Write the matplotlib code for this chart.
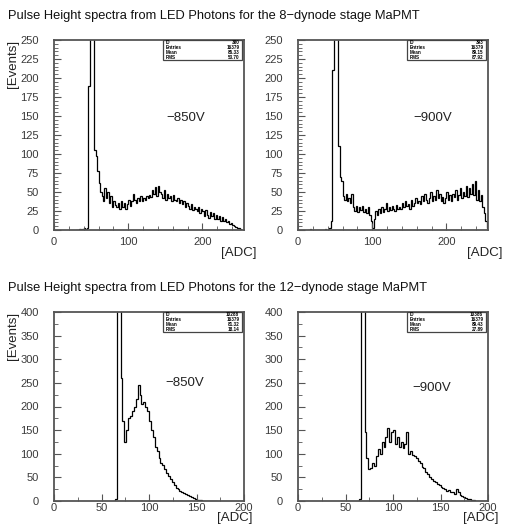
import numpy as np
import matplotlib
matplotlib.use("Agg")
import matplotlib.pyplot as plt
from matplotlib.ticker import MultipleLocator

plt.rcParams['font.family'] = ['Liberation Sans', 'DejaVu Sans']

# ---------------- data (bin width 2 ADC) ----------------
bin_width = 2

# 8-dynode, -850V  (bins starting at ADC 30)
start_8_850 = 30
counts_8_850 = [0, 0, 1, 0, 1, 2, 1, 3, 190, 600, 900, 400,
                105, 98, 78, 62, 50, 45, 38, 55, 42, 50, 35, 45, 30, 38, 33, 30, 35, 28,
                38, 30, 36, 28, 34, 40, 32, 38, 48, 40, 35, 42, 38, 45, 38, 42, 40, 45,
                42, 46, 44, 52, 48, 56, 45, 58, 50, 48, 42, 52, 40, 48, 42, 45, 38, 46,
                40, 38, 42, 35, 40, 34, 38, 30, 36, 32, 28, 34, 26, 30, 28, 25, 30, 22,
                27, 25, 18, 26, 20, 16, 24, 18, 22, 15, 20, 14, 18, 12, 17, 12, 14, 10,
                12, 8, 9, 6, 5, 4, 3, 2, 1, 0, 0]

# 8-dynode, -900V  (bins starting at ADC 14)
start_8_900 = 14
counts_8_900 = [0, 1, 0, 0, 0, 0, 0, 0, 0, 0, 0, 1, 0, 1, 2, 12, 210, 600, 800, 400,
                110, 70, 65, 45, 40, 48, 38, 42, 35, 47, 30, 25, 32, 24, 30, 26, 31, 24,
                28, 22, 30, 20, 12, 3, 15, 25, 20, 28, 22, 30, 24, 28, 35, 25, 30, 26,
                32, 28, 25, 33, 27, 30, 28, 35, 30, 38, 32, 34, 28, 40, 32, 36, 42, 35,
                38, 34, 45, 38, 47, 40, 35, 42, 50, 38, 45, 40, 52, 42, 48, 38, 44, 36,
                42, 50, 40, 46, 38, 48, 44, 52, 40, 46, 55, 42, 50, 45, 58, 44, 55, 48,
                60, 46, 64, 40, 52, 38, 46, 30, 22, 12, 3]

# 12-dynode, -850V  (bins starting at ADC 62)
start_12_850 = 62
counts_12_850 = [0, 5, 800, 900, 260, 170, 125, 150, 175, 180, 190, 200, 215, 245,
                 225, 205, 210, 200, 190, 170, 150, 135, 115, 105, 92, 80, 76, 68, 60,
                 52, 46, 40, 33, 28, 25, 22, 20, 17, 14, 12, 10, 8, 6, 5, 3, 2, 2, 1,
                 1, 1, 1, 1, 0, 1, 0]

# 12-dynode, -900V  (bins starting at ADC 62)
start_12_900 = 62
counts_12_900 = [0, 5, 700, 900, 145, 90, 68, 70, 80, 75, 95, 110, 100, 125, 115,
                 135, 155, 125, 145, 150, 120, 135, 115, 125, 112, 120, 145, 100, 105,
                 98, 95, 90, 85, 80, 72, 70, 62, 58, 50, 47, 42, 40, 37, 33, 30, 28,
                 25, 22, 24, 18, 20, 15, 25, 18, 12, 10, 8, 6, 5, 4, 3, 2, 1, 0]

stats_8_850 = [("ID", "380"), ("Entries", "16379"), ("Mean", "86.33"), ("RMS", "53.70")]
stats_8_900 = [("ID", "393"), ("Entries", "16379"), ("Mean", "89.15"), ("RMS", "87.92")]
stats_12_850 = [("ID", "10288"), ("Entries", "16379"), ("Mean", "81.32"), ("RMS", "18.14")]
stats_12_900 = [("ID", "10386"), ("Entries", "16379"), ("Mean", "89.43"), ("RMS", "27.89")]

title_8 = "Pulse Height spectra from LED Photons for the 8\u2212dynode stage MaPMT"
title_12 = "Pulse Height spectra from LED Photons for the 12\u2212dynode stage MaPMT"

# ---------------- figure ----------------
W, H = 505, 531
fig = plt.figure(figsize=(W / 100, H / 100), dpi=100)
fig.patch.set_facecolor("white")

def px_axes(l, t, r, b):
    return fig.add_axes([l / W, 1 - b / H, (r - l) / W, (b - t) / H])

spine_col = "#555555"
tick_col = "#3a3a3a"

def draw(ax, start, counts, xmax, ymax, xmaj, xmin, ymaj, ymin, volt, vx, vy, stats, xpad):
    counts = np.array(counts, dtype=float)
    edges = start + bin_width * np.arange(len(counts) + 1)
    ax.stairs(counts, edges, color="black", lw=0.9)
    ax.set_xlim(0, xmax)
    ax.set_ylim(0, ymax)
    ax.xaxis.set_major_locator(MultipleLocator(xmaj))
    ax.xaxis.set_minor_locator(MultipleLocator(xmin))
    ax.yaxis.set_major_locator(MultipleLocator(ymaj))
    ax.yaxis.set_minor_locator(MultipleLocator(ymin))
    ax.tick_params(which="both", direction="in", color=spine_col, labelcolor=tick_col,
                   labelsize=8, top=False, right=False)
    ax.tick_params(which="major", length=5, width=0.8)
    ax.tick_params(which="minor", length=3, width=0.6)
    ax.tick_params(axis="x", pad=xpad)
    ax.tick_params(axis="y", pad=11)
    for s in ax.spines.values():
        s.set_color(spine_col)
        s.set_linewidth(1.3)
    ax.text(vx, vy, volt, fontsize=9.5, color="#222222", ha="left", va="center")
    # stats box
    bx0, bx1, by0, by1 = 0.575, 0.99, 0.895, 1.0
    ax.add_patch(plt.Rectangle((bx0, by0), bx1 - bx0, by1 - by0, transform=ax.transAxes,
                               fill=True, facecolor="white", edgecolor="#444444", lw=0.9,
                               zorder=5))
    n = len(stats)
    for i, (k, v) in enumerate(stats):
        yy = by1 - (i + 0.55) * (by1 - by0) / n
        ax.text(bx0 + 0.015, yy, k, transform=ax.transAxes, fontsize=3.3, fontweight="bold",
                ha="left", va="center", zorder=6)
        ax.text(bx1 - 0.015, yy, v, transform=ax.transAxes, fontsize=3.3, fontweight="bold",
                ha="right", va="center", zorder=6)

ax1 = px_axes(54, 40, 244, 230)
draw(ax1, start_8_850, counts_8_850, 256, 250, 100, 20, 25, 5, "\u2212850V", 151, 147,
     stats_8_850, 5)
ax2 = px_axes(298, 40, 488, 230)
draw(ax2, start_8_900, counts_8_900, 256, 250, 100, 20, 25, 5, "\u2212900V", 155, 147,
     stats_8_900, 5)
ax3 = px_axes(54, 312, 244, 501)
draw(ax3, start_12_850, counts_12_850, 200, 400, 50, 25, 50, 25, "\u2212850V", 117, 250,
     stats_12_850, 1.2)
ax4 = px_axes(298, 312, 488, 501)
draw(ax4, start_12_900, counts_12_900, 200, 400, 50, 25, 50, 25, "\u2212900V", 120, 239,
     stats_12_900, 1.2)

fig.text(8 / W, 1 - 16 / H, title_8, fontsize=9.3, ha="left", va="center", color="#111111")
fig.text(8 / W, 1 - 288 / H, title_12, fontsize=9.3, ha="left", va="center", color="#111111")

for y0 in (40, 312):
    fig.text(13 / W, 1 - y0 / H, "[Events]", rotation=90, fontsize=9.5, ha="center", va="top",
             color="#222222")
for x1, y in ((256, 253), (502, 253), (253, 518), (498, 518)):
    fig.text(x1 / W, 1 - y / H, "[ADC]", fontsize=9.5, ha="right", va="center", color="#222222")

fig.savefig("out.png", dpi=100)
